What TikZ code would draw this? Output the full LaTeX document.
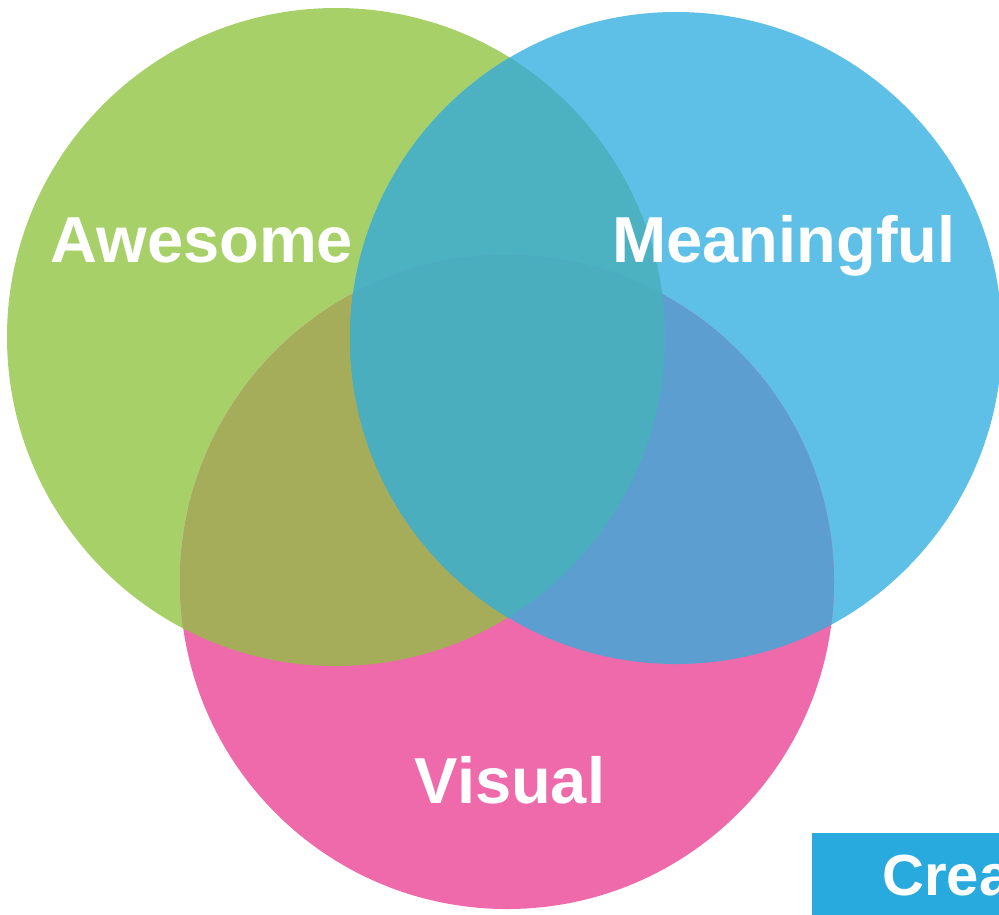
\documentclass[tikz,border=0pt]{standalone}
\usepackage{fontspec}
\setmainfont{Liberation Sans}
\usetikzlibrary{positioning}

\definecolor{awesomegreen}{RGB}{167,209,104}
\definecolor{meaningblue}{RGB}{94,192,230}
\definecolor{visualpink}{RGB}{238,106,170}
\definecolor{greenblue}{RGB}{76,178,193}
\definecolor{greenpink}{RGB}{165,173,90}
\definecolor{bluepink}{RGB}{92,158,208}
\definecolor{allthree}{RGB}{74,174,190}
\definecolor{bannerblue}{RGB}{40,170,222}

\begin{document}
\begin{tikzpicture}[x=0.02cm,y=-0.02cm,
    vennlabel/.style={text=white,inner sep=0pt,anchor=base,
      font=\bfseries\fontsize{37}{40}\selectfont},
]
\useasboundingbox (0,0) rectangle (999,914);
\def\awesomecirc{(336,337) circle[radius=329]}
\def\meaningcirc{(676,338) circle[radius=326]}
\def\visualcirc{(507,582) circle[radius=327]}

% the three sets
\fill[awesomegreen] \awesomecirc;
\fill[meaningblue] \meaningcirc;
\fill[visualpink] \visualcirc;

% overlaps
\begin{scope}
  \clip \awesomecirc;
  \fill[greenpink] \visualcirc;
  \fill[greenblue] \meaningcirc;
\end{scope}
\begin{scope}
  \clip \meaningcirc;
  \fill[bluepink] \visualcirc;
\end{scope}
\begin{scope}
  \clip \awesomecirc;
  \clip \meaningcirc;
  \fill[allthree] \visualcirc;
\end{scope}

\node[vennlabel] (awesome) at (202,262) {Awesome};
\node[vennlabel] (meaningful) at (784,262) {Meaningful};
\node[vennlabel] (visual) at (510,803) {Visual};

% banner in the corner
\node[fill=bannerblue,inner sep=0pt,anchor=north west,
  minimum width=200*0.02cm,minimum height=90*0.02cm] (banner) at (812,833) {};
\node[text=white,inner sep=0pt,anchor=base west,
  font=\bfseries\fontsize{33}{36}\selectfont] (crea) at (882,895) {Crea};
\end{tikzpicture}
\end{document}
